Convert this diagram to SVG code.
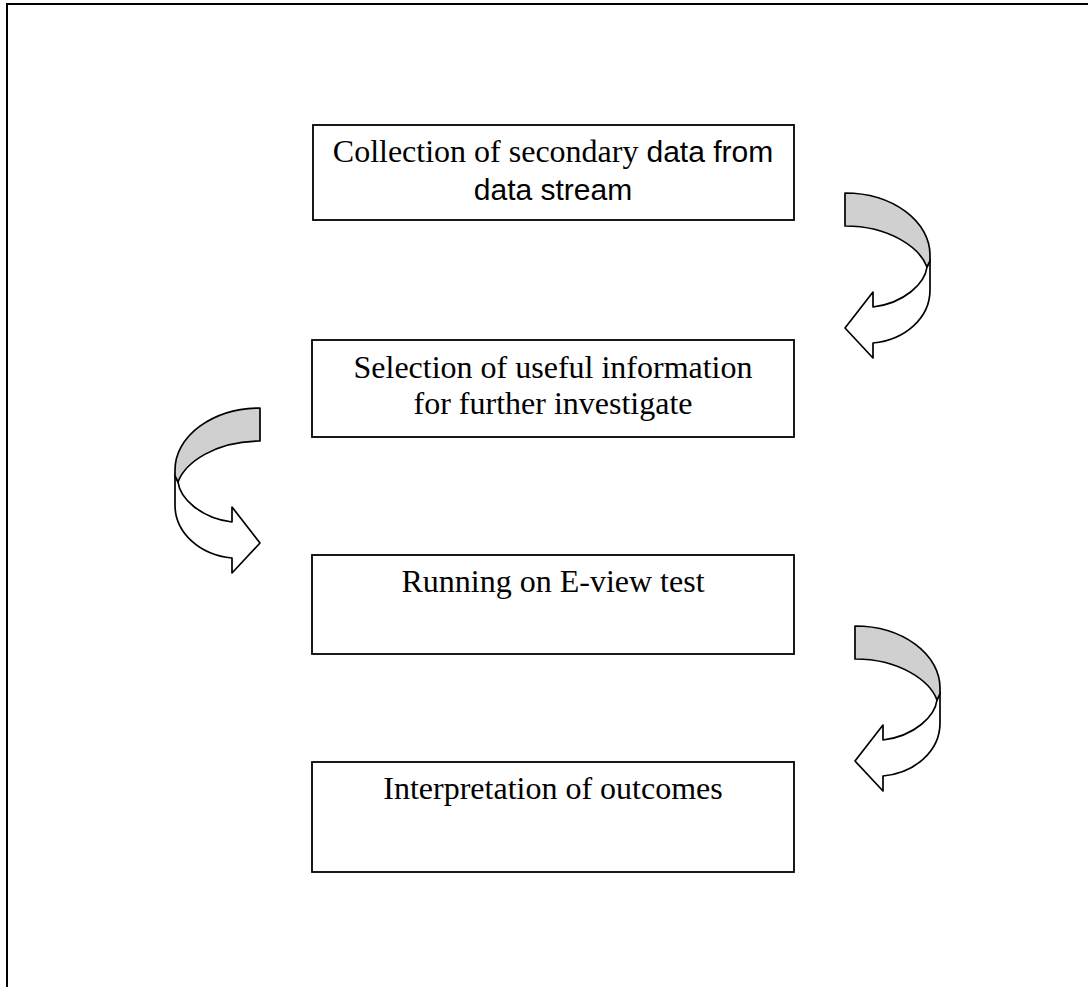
<svg xmlns="http://www.w3.org/2000/svg" width="1088" height="987" viewBox="0 0 1088 987">
<style>
.box{fill:#fff;stroke:#000;stroke-width:1.8}
.t{font-family:"Liberation Serif","Times New Roman",serif;font-size:32px;fill:#000;text-anchor:middle}
.s{font-family:"Liberation Sans",Arial,sans-serif;font-size:30px}
.g{fill:#d0d0d0;stroke:#000;stroke-width:1.7;stroke-linejoin:round}
.w{fill:#fff;stroke:#000;stroke-width:1.7;stroke-linejoin:round}
</style>
<defs>
<g id="carrow">
<path class="w" d="M82,74 C80,90 60,110 28,114 L28,99 L0,135 L28,165 L28,150 C60,147 85,125 85,97 L85,66 Z"/>
<path class="g" d="M0,0 A85,62 0 0 1 85,62 L85,68 L82,74 C75,55 45,33 0,33 Z"/>
</g>
</defs>
<rect x="0" y="0" width="1088" height="987" fill="#fff"/>
<path d="M7,990 L7,4 L1090,4" fill="none" stroke="#000" stroke-width="2"/>
<g id="node1">
<rect class="box" x="313" y="125" width="481" height="95"/>
<text class="t" x="553" y="162">Collection of secondary <tspan class="s">data from</tspan></text>
<text class="t" x="553" y="200"><tspan class="s">data stream</tspan></text>
</g>
<g id="node2">
<rect class="box" x="312" y="340" width="482" height="97"/>
<text class="t" x="553" y="378">Selection of useful information</text>
<text class="t" x="553" y="414">for further investigate</text>
</g>
<g id="node3">
<rect class="box" x="312" y="555" width="482" height="99"/>
<text class="t" x="553" y="592">Running on E-view test</text>
</g>
<g id="node4">
<rect class="box" x="312" y="762" width="482" height="110"/>
<text class="t" x="553" y="799">Interpretation of outcomes</text>
</g>
<g id="connectors">
<use href="#carrow" transform="translate(845,193)"/>
<use href="#carrow" transform="translate(260,408) scale(-1,1)"/>
<use href="#carrow" transform="translate(855,626)"/>
</g>
</svg>
